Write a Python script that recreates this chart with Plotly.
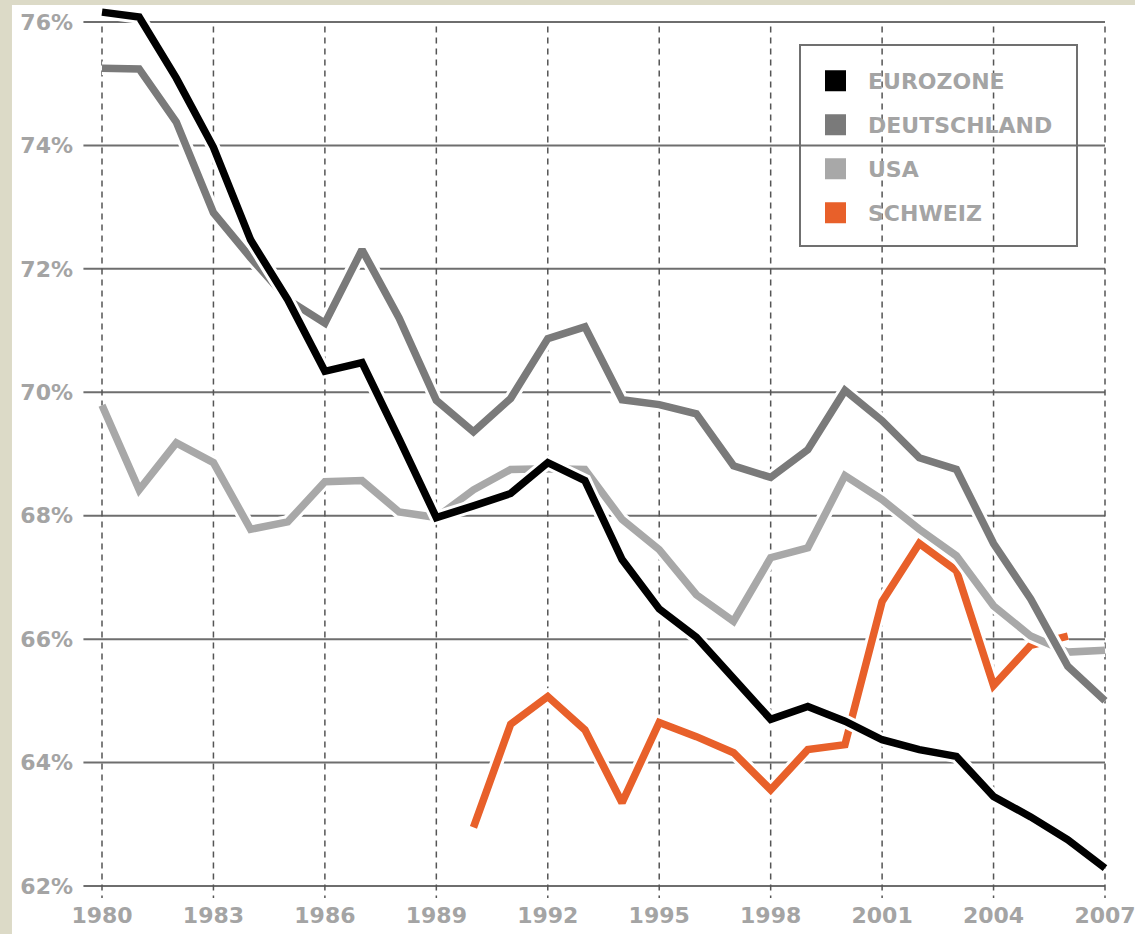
import plotly.graph_objects as go

years = list(range(1980, 2008))
eurozone = [76.16, 76.08, 75.09, 73.97, 72.47, 71.5, 70.34, 70.48, 69.24, 67.97,
            68.16, 68.36, 68.86, 68.57, 67.29, 66.49, 66.03, 65.35, 64.7, 64.91,
            64.67, 64.37, 64.21, 64.1, 63.45, 63.12, 62.75, 62.29]
deutschland = [75.25, 75.24, 74.38, 72.91, 72.18, 71.5, 71.12, 72.31, 71.2, 69.87,
               69.36, 69.9, 70.87, 71.06, 69.88, 69.8, 69.65, 68.81, 68.62, 69.07,
               70.03, 69.54, 68.94, 68.75, 67.55, 66.65, 65.56, 65.0]
usa = [69.79, 68.42, 69.18, 68.86, 67.78, 67.9, 68.55, 68.57, 68.06, 67.97,
       68.42, 68.75, 68.76, 68.75, 67.94, 67.45, 66.72, 66.29, 67.32, 67.48,
       68.65, 68.26, 67.78, 67.35, 66.54, 66.05, 65.79, 65.82]
schweiz_years = list(range(1990, 2007))
schweiz = [62.95, 64.62, 65.07, 64.53, 63.35, 64.65, 64.42, 64.16, 63.56, 64.21,
           64.29, 66.61, 67.55, 67.11, 65.25, 65.9, 66.05]

series_names = ["EUROZONE", "DEUTSCHLAND", "USA", "SCHWEIZ"]
colors = {"EUROZONE": "#000000", "DEUTSCHLAND": "#7a7a7a", "USA": "#a8a8a8", "SCHWEIZ": "#e8602a"}

y_ticks = [62, 64, 66, 68, 70, 72, 74, 76]
y_ticktext = [f"{v}%" for v in y_ticks]
x_ticks = list(range(1980, 2008, 3))

FONT = "DejaVu Sans"
TXT = "#a4a4a4"

# plot area: x 80..1125 px, y 5..898 px
PH = 893.0

fig = go.Figure()

draw_order = [("SCHWEIZ", schweiz_years, schweiz), ("USA", years, usa),
              ("DEUTSCHLAND", years, deutschland), ("EUROZONE", years, eurozone)]
for name, xs, ys in draw_order:
    fig.add_trace(go.Scatter(x=xs, y=ys, mode="lines", showlegend=False, hoverinfo="skip",
                             line=dict(color="white", width=13.5)))
    fig.add_trace(go.Scatter(x=xs, y=ys, mode="lines", showlegend=False, name=name,
                             line=dict(color=colors[name], width=7.5)))

for name in series_names:
    fig.add_trace(go.Scatter(x=[None], y=[None], mode="markers", name=name, legendgroup=name,
                             marker=dict(symbol="square", size=16, color=colors[name],
                                         line=dict(color=colors[name], width=5))))

shapes = []
# white panel over beige paper
shapes.append(dict(type="rect", xref="paper", yref="paper", x0=-0.0651, x1=1.02, y0=-0.05, y1=1.0,
                   fillcolor="white", line=dict(width=0), layer="below"))
for v in y_ticks:
    shapes.append(dict(type="line", xref="x", yref="y", x0=1979.5, x1=2007, y0=v, y1=v,
                       line=dict(color="#6e6e6e", width=2), layer="below"))
for v in x_ticks:
    shapes.append(dict(type="line", xref="x", yref="y", x0=v, x1=v, y0=61.75, y1=76.0,
                       line=dict(color="#555555", width=1.5, dash="6px,5px"), layer="below"))
# legend frame
shapes.append(dict(type="rect", xref="paper", yref="paper",
                   x0=(800 - 80) / 1045, x1=(1077 - 80) / 1045,
                   y0=(898 - 246) / PH, y1=(898 - 45) / PH,
                   fillcolor="white", line=dict(color="#707070", width=2), layer="below"))

fig.update_layout(
    width=1135, height=934,
    margin=dict(l=80, r=10, t=5, b=36),
    paper_bgcolor="#dcdac7",
    plot_bgcolor="white",
    shapes=shapes,
    font=dict(family=FONT, color=TXT),
    showlegend=True,
    legend=dict(x=(803 - 80) / 1045, y=(898 - 60) / PH, xanchor="left", yanchor="top",
                bgcolor="rgba(0,0,0,0)", borderwidth=0, itemwidth=55,
                tracegroupgap=12.4, traceorder="grouped",
                font=dict(family=FONT, size=22, color=TXT, weight="bold")),
    xaxis=dict(range=[1979.4078, 2007.5384], showgrid=False, zeroline=False, showline=False,
               tickmode="array", tickvals=x_ticks, ticks="", ticklabelstandoff=2,
               ticklabeloverflow="allow", automargin=False,
               tickfont=dict(family=FONT, size=22, color=TXT, weight="bold")),
    yaxis=dict(range=[61.8056, 76.2755], showgrid=False, zeroline=False, showline=False,
               tickmode="array", tickvals=y_ticks, ticktext=y_ticktext, ticks="",
               ticklabelstandoff=6, automargin=False,
               tickfont=dict(family=FONT, size=22, color=TXT, weight="bold")),
)

post = (
    "document.documentElement.style.margin='0';"
    "document.body.style.margin='0';"
    "document.documentElement.style.overflow='hidden';"
    "document.body.style.overflow='hidden';"
)
fig.write_html("out.html", config={"displayModeBar": False}, post_script=post)
